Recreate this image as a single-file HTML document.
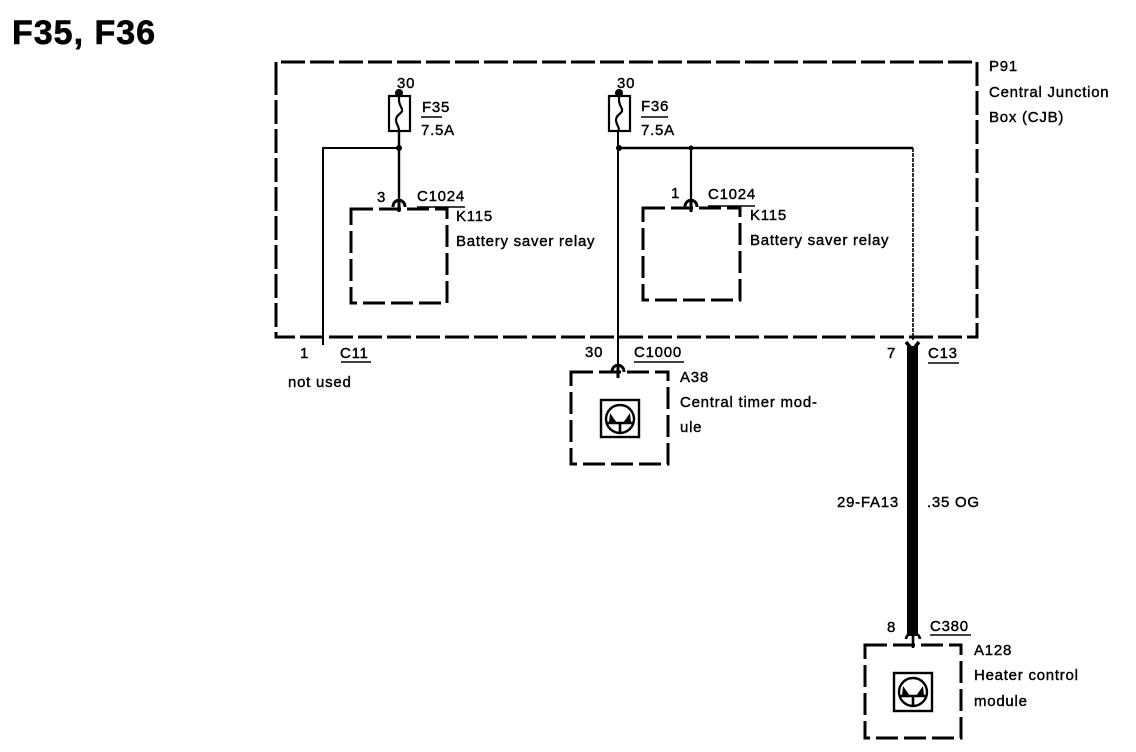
<!DOCTYPE html>
<html><head><meta charset="utf-8"><style>
html,body{margin:0;padding:0;background:#fff}
svg{display:block}
text{font-family:"Liberation Sans",sans-serif;font-size:15px;letter-spacing:.75px;fill:#000;stroke:#000;stroke-width:.4px}
</style></head><body>
<svg width="1136" height="752" viewBox="0 0 1136 752" xmlns="http://www.w3.org/2000/svg">
<text x="12" y="44" style="font-size:34px;font-weight:bold;stroke-width:.6px;letter-spacing:1px">F35, F36</text>
<g fill="none" stroke="#000">
<path d="M276 86V62H977V337H276V86" stroke-width="3" stroke-dasharray="24 5"/>
<g stroke-width="3" stroke-dasharray="22 6">
<path d="M351 209H447V303H351Z"/>
<path d="M643 208H740V300H643Z"/>
<path d="M571 372H668V464H571Z"/>
<path d="M865 645H961V738H865Z"/>
</g>
<path d="M399 131V205" stroke-width="2.4"/>
<path d="M618 131V376" stroke-width="2"/>
<path d="M323 345V148H399" stroke-width="2"/>
<path d="M618 148H913" stroke-width="2.4"/>
<path d="M691 148V208" stroke-width="2.2"/>
<path d="M913 148V340" stroke-width="1.6" stroke-dasharray="4 1"/>
<path d="M912.5 346V636" stroke-width="11"/>
<rect x="389" y="96" width="21" height="35" stroke-width="2.2"/>
<rect x="609" y="96" width="21" height="35" stroke-width="2.2"/>
<path d="M399 93V100C399 106 403 108 402 111C401 114 396 115 396 120C396 125 399 125 399 131" stroke-width="2.2"/>
<path d="M619 93V100C619 106 623 108 622 111C621 114 616 115 616 120C616 125 619 125 619 131" stroke-width="2.2"/>
<path d="M393 207C393 198 405 198 405 207M399 201V212" stroke-width="3"/>
<path d="M685 207C685 198 697 198 697 207M691 201V212" stroke-width="3"/>
<path d="M612 372C612 363 624 363 624 372M618 366V378" stroke-width="3"/>
<path d="M906 342L912.5 350L919 342" stroke-width="3.4"/>
<path d="M906 639C907 631 919 631 920 639M913 634V648" stroke-width="2.6"/>
<path d="M421 117H442M641 117H668M417 207H465M708 206H755M341 362H371M634 362H684M928 363H959M930 635H971" stroke-width="1.6"/>
<rect x="601" y="400" width="38" height="37" stroke-width="2.4"/>
<circle cx="620" cy="419" r="14" stroke-width="2.4"/>
<path d="M607 423H633M620 423V433" stroke-width="2.6"/>
<path d="M610 413L617 423H609ZM630 413L623 423H631Z" fill="#000" stroke="none"/>
<rect x="894" y="673" width="38" height="38" stroke-width="2.4"/>
<circle cx="913" cy="692" r="14" stroke-width="2.4"/>
<path d="M900 696H926M913 696V706" stroke-width="2.6"/>
<path d="M903 686L910 696H902ZM923 686L916 696H924Z" fill="#000" stroke="none"/>
</g>
<circle cx="399" cy="93" r="4"/><circle cx="619" cy="93" r="4"/>
<circle cx="399" cy="148" r="3"/><circle cx="619" cy="148" r="3"/><circle cx="691" cy="148" r="2.5"/>
<text x="397" y="88">30</text>
<text x="617" y="88">30</text>
<text x="422" y="112">F35</text>
<text x="421" y="135">7.5A</text>
<text x="641" y="111">F36</text>
<text x="641" y="135">7.5A</text>
<text x="377" y="202">3</text>
<text x="417" y="201">C1024</text>
<text x="671" y="198">1</text>
<text x="708" y="199">C1024</text>
<text x="456" y="221">K115</text>
<text x="456" y="246">Battery saver relay</text>
<text x="750" y="220">K115</text>
<text x="750" y="245">Battery saver relay</text>
<text x="989" y="71">P91</text>
<text x="989" y="97">Central Junction</text>
<text x="989" y="122">Box (CJB)</text>
<text x="300" y="358">1</text>
<text x="340" y="358">C11</text>
<text x="288" y="387">not used</text>
<text x="585" y="357">30</text>
<text x="634" y="357">C1000</text>
<text x="680" y="382">A38</text>
<text x="680" y="407">Central timer mod-</text>
<text x="680" y="432">ule</text>
<text x="887" y="358">7</text>
<text x="928" y="358">C13</text>
<text x="837" y="507">29-FA13</text>
<text x="927" y="507">.35 OG</text>
<text x="887" y="632">8</text>
<text x="930" y="631">C380</text>
<text x="974" y="655">A128</text>
<text x="974" y="680">Heater control</text>
<text x="974" y="706">module</text>
</svg>
</body></html>
